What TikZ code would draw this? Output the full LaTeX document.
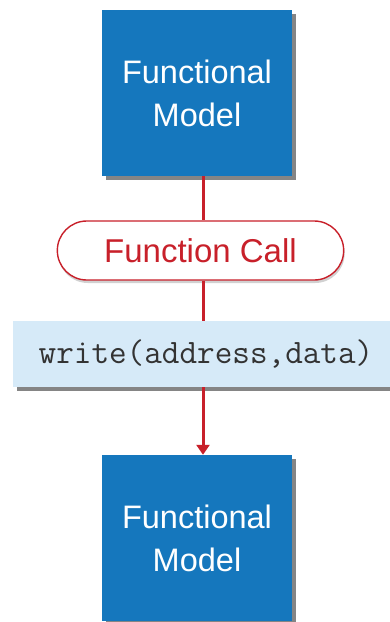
\documentclass[tikz,border=0pt]{standalone}
\usepackage{fontspec}
\setmainfont{Liberation Sans}
\usetikzlibrary{arrows.meta,shadows,shapes.misc}

\definecolor{modelblue}{HTML}{1577BD}
\definecolor{callred}{HTML}{C8202A}
\definecolor{codeblue}{HTML}{D6EAF8}
\definecolor{shadowgray}{HTML}{858585}

\tikzset{
  model/.style={fill=modelblue, text=white, minimum width=190pt, minimum height=166pt,
    align=center, font=\fontsize{32.5}{43}\selectfont,
    drop shadow={shadow xshift=4pt, shadow yshift=-4pt, fill=shadowgray, opacity=1}},
  call/.style={rounded rectangle, draw=callred, line width=1.4pt, fill=white,
    text=callred, minimum width=293pt, minimum height=59pt,
    font=\fontsize{33}{40}\selectfont,
    drop shadow={shadow xshift=1pt, shadow yshift=-3pt, fill=black!18, opacity=1}},
  code/.style={fill=codeblue, minimum width=381pt, minimum height=66pt,
    drop shadow={shadow xshift=4pt, shadow yshift=-4pt, fill=shadowgray, opacity=1}},
  codetext/.style={text=black!80, font=\ttfamily\fontsize{34.2}{39}\selectfont},
  conn/.style={draw=callred, line width=3pt}
}

\begin{document}
\begin{tikzpicture}[x=1pt, y=-1pt]
  \useasboundingbox (0,0) rectangle (390,622);

  % upper model block
  \node[model] (upper) at (197,93) {Functional\\Model};

  % the call between the two models
  \node[call] (fcall) at (200.5,250.5) {Function Call};

  % call signature
  \node[code] (sig) at (203.5,354) {};
  \node[codetext] (sigtext) at (206,354) {write(address,data)};

  % lower model block
  \node[model] (lower) at (197,538) {Functional\\Model};

  % red connectors
  \draw[conn] ([xshift=6pt]upper.south) -- ([xshift=2.5pt]fcall.north);
  \draw[conn] ([xshift=2.5pt]fcall.south) -- ([xshift=-0.5pt]sig.north);
  \draw[conn, -{Triangle[length=10pt,width=13pt]}] ([xshift=-0.5pt]sig.south) -- ([xshift=6pt]lower.north);
\end{tikzpicture}
\end{document}
